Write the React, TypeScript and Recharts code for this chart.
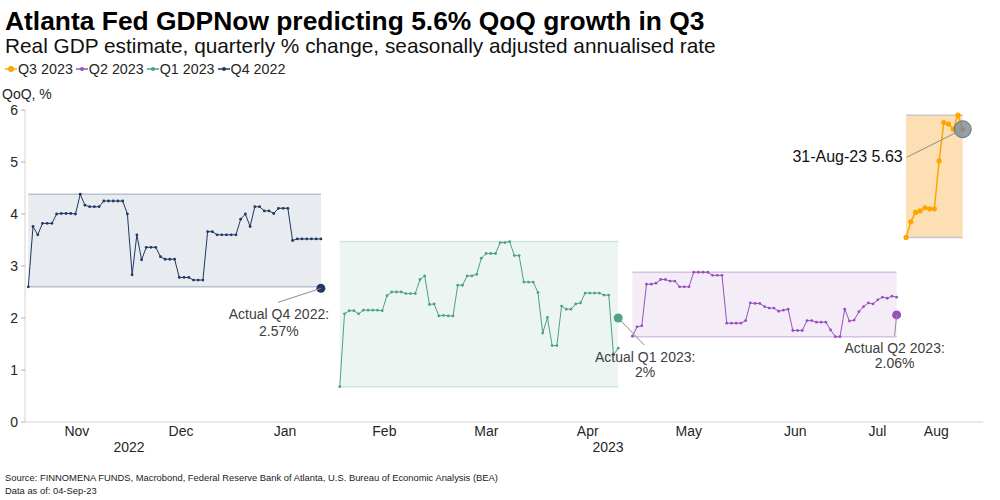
import React from 'react';
import { LineChart, Line, XAxis, YAxis, ReferenceArea, ReferenceLine, ReferenceDot } from 'recharts';

// GDPNow estimates, one value per observation
const q4Values = [
  2.6, 3.76, 3.6, 3.82, 3.82, 3.82, 4.0, 4.01, 4.01, 4.01, 4.0, 4.38, 4.17, 4.14, 4.14, 4.14,
  4.25, 4.25, 4.25, 4.25, 4.25, 4.0, 2.83, 3.6, 3.12, 3.36, 3.36, 3.36, 3.18, 3.13, 3.13, 3.13,
  2.78, 2.78, 2.78, 2.73, 2.73, 2.73, 3.66, 3.66, 3.6, 3.6, 3.6, 3.6, 3.6, 3.9, 4.0, 3.76,
  4.14, 4.14, 4.06, 4.06, 4.01, 4.11, 4.11, 4.11, 3.49, 3.52, 3.52, 3.52, 3.52, 3.52, 3.52,
];
const q1Values = [
  0.68, 2.08, 2.14, 2.14, 2.08, 2.15, 2.15, 2.15, 2.15, 2.14, 2.43, 2.5, 2.5, 2.5, 2.47, 2.47,
  2.47, 2.74, 2.81, 2.26, 2.27, 2.04, 2.05, 2.04, 2.04, 2.63, 2.63, 2.81, 2.81, 2.84, 3.15, 3.24,
  3.24, 3.24, 3.45, 3.45, 3.47, 3.2, 3.2, 2.69, 2.69, 2.69, 2.49, 1.71, 2.01, 1.47, 1.47, 2.23,
  2.17, 2.17, 2.27, 2.29, 2.48, 2.48, 2.48, 2.48, 2.44, 2.44, 1.29, 1.42,
];
const q2Values = [
  1.65, 1.83, 1.85, 2.65, 2.65, 2.67, 2.74, 2.74, 2.71, 2.71, 2.6, 2.6, 2.6, 2.88, 2.88, 2.88,
  2.88, 2.82, 2.82, 2.82, 1.9, 1.9, 1.9, 1.9, 1.95, 2.29, 2.28, 2.28, 2.22, 2.19, 2.19, 2.13,
  2.15, 2.17, 1.76, 1.76, 1.76, 1.95, 1.95, 1.92, 1.92, 1.92, 1.77, 1.64, 1.64, 2.17, 1.94, 1.96,
  2.12, 2.22, 2.29, 2.27, 2.35, 2.4, 2.38, 2.42, 2.4,
];
const q3Values = [3.55, 3.85, 4.03, 4.06, 4.12, 4.1, 4.1, 5.02, 5.76, 5.73, 5.63, 5.9, 5.63];

// observation index where each quarter's nowcast begins
const seriesStart = [0, 66, 128, 186];
const seriesNames = ['Q4 2022', 'Q1 2023', 'Q2 2023', 'Q3 2023'];

const actualValues = [2.57, 2.0, 2.06];
const actualText = ['2.57%', '2%', '2.06%'];
const lastDate = '31-Aug-23';

const monthEdges = [-0.7, 21.3, 43.4, 65.4, 85.5, 108.6, 128.5, 151.4, 173.6, 186.3, 198.5];
const monthLabels = ['Nov', 'Dec', 'Jan', 'Feb', 'Mar', 'Apr', 'May', 'Jun', 'Jul', 'Aug'];
const yearEdges = [-0.7, 43.4, 202.3];
const yearLabels = ['2022', '2023'];
const yTicks = [0, 1, 2, 3, 4, 5, 6];

const FONT = '"Liberation Sans", Arial, sans-serif';
const TEXT = '#262626';

const colors = [
  { line: '#1f3864', band: '#e8ebef', edge: '#b8c1cd' },
  { line: '#4aa287', band: '#edf5f2', edge: '#cde5dd' },
  { line: '#9a4fbf', band: '#f4edf8', edge: '#d8bfe6' },
  { line: '#ffa500', band: '#fddfb4', edge: '#c9c9c9' },
];

const allValues = [q4Values, q1Values, q2Values, q3Values];
const series = allValues.map((vals, k) => ({
  name: seriesNames[k],
  data: vals.map((v, i) => ({ x: seriesStart[k] + i, v })),
  x1: seriesStart[k],
  x2: seriesStart[k] + vals.length - 1,
  lo: Math.min(...vals),
  hi: Math.max(...vals),
  ...colors[k],
}));

const monthTicks = monthLabels.map((_, i) => (monthEdges[i] + monthEdges[i + 1]) / 2);
const yearTicks = yearLabels.map((_, i) => (yearEdges[i] + yearEdges[i + 1]) / 2);
const domain = [yearEdges[0], yearEdges[yearEdges.length - 1]];

// text + leader line offsets relative to each actual dot
const notePos = [
  { lx: -43, ly: 14, tx: -42, t1: 31, t2: 48 },
  { lx: 26, ly: 27, tx: 27, t1: 44, t2: 59 },
  { lx: -2, ly: 21, tx: -2, t1: 38, t2: 53 },
];

const actualNote = (k: number) => (props: any) => {
  const vb = props.viewBox;
  const cx = vb.x + vb.width / 2;
  const cy = vb.y + vb.height / 2;
  const p = notePos[k];
  return (
    <g>
      <line x1={cx} y1={cy} x2={cx + p.lx} y2={cy + p.ly} stroke="#8c8c8c" strokeWidth={1} />
      <text x={cx + p.tx} y={cy + p.t1} textAnchor="middle" fontSize={14} fill="#404040" fontFamily={FONT}>
        {`Actual ${seriesNames[k]}:`}
      </text>
      <text x={cx + p.tx} y={cy + p.t2} textAnchor="middle" fontSize={14} fill="#404040" fontFamily={FONT}>
        {actualText[k]}
      </text>
    </g>
  );
};

const lastNote = (props: any) => {
  const vb = props.viewBox;
  const cx = vb.x + vb.width / 2;
  const cy = vb.y + vb.height / 2;
  const last = q3Values[q3Values.length - 1];
  return (
    <g>
      <line x1={cx - 6} y1={cy + 3} x2={cx - 56} y2={cy + 28} stroke="#8c8c8c" strokeWidth={1} />
      <text x={cx - 60} y={cy + 33} textAnchor="end" fontSize={16} fill="#111" fontFamily={FONT}>
        {`${lastDate} ${last.toFixed(2)}`}
      </text>
    </g>
  );
};

const Legend = () => (
  <div style={{ position: 'absolute', left: 5, top: 61, display: 'flex', gap: 3, fontSize: 14.3, color: TEXT }}>
    {[3, 2, 1, 0].map((k) => (
      <div key={k} style={{ display: 'flex', alignItems: 'center', gap: 1 }}>
        <svg width={12} height={10}>
          <line x1={0} y1={5} x2={12} y2={5} stroke={series[k].line} strokeWidth={1.5} />
          <circle cx={6} cy={5} r={k === 3 ? 3 : 2} fill={series[k].line} />
        </svg>
        <span>{series[k].name}</span>
      </div>
    ))}
  </div>
);

export default function App() {
  const q3 = series[3];
  return (
    <div style={{ position: 'fixed', left: 0, top: 0, width: 1000, height: 500, background: '#fff', fontFamily: FONT }}>
      <div style={{ position: 'absolute', left: 5, top: 6, fontSize: 26.4, fontWeight: 'bold', color: '#000', whiteSpace: 'nowrap' }}>
        Atlanta Fed GDPNow predicting 5.6% QoQ growth in Q3
      </div>
      <div style={{ position: 'absolute', left: 5, top: 34, fontSize: 20.8, color: '#111', whiteSpace: 'nowrap' }}>
        Real GDP estimate, quarterly % change, seasonally adjusted annualised rate
      </div>
      <Legend />
      <div style={{ position: 'absolute', left: 2, top: 86, fontSize: 14, color: TEXT }}>QoQ, %</div>

      <div style={{ position: 'absolute', left: 0, top: 0 }}>
        <LineChart width={1000} height={500} margin={{ top: 110, right: 17, bottom: 0, left: 0 }}>
          <XAxis
            type="number"
            dataKey="x"
            domain={domain}
            allowDataOverflow
            ticks={monthEdges.slice(1)}
            tick={false}
            tickSize={3}
            height={1}
            stroke="#d4d4d4"
            tickLine={{ stroke: '#b0b0b0' }}
          />
          <XAxis
            xAxisId="month"
            type="number"
            dataKey="x"
            domain={domain}
            allowDataOverflow
            ticks={monthTicks}
            tickFormatter={(v: number) => monthLabels[monthTicks.indexOf(v)]}
            axisLine={false}
            tickLine={false}
            tickSize={0}
            tickMargin={3}
            height={16}
            tick={{ fontSize: 14, fill: TEXT, fontFamily: FONT }}
            interval={0}
          />
          <XAxis
            xAxisId="year"
            type="number"
            dataKey="x"
            domain={domain}
            allowDataOverflow
            ticks={yearTicks}
            tickFormatter={(v: number) => yearLabels[yearTicks.indexOf(v)]}
            axisLine={false}
            tickLine={false}
            tickSize={0}
            tickMargin={3}
            height={61}
            tick={{ fontSize: 14, fill: TEXT, fontFamily: FONT }}
            interval={0}
          />
          <YAxis
            type="number"
            domain={[0, 6]}
            ticks={yTicks}
            width={25}
            stroke="#d4d4d4"
            tickLine={{ stroke: '#b0b0b0' }}
            tickSize={4}
            tickMargin={3}
            tick={{ fontSize: 14, fill: TEXT, fontFamily: FONT }}
            interval={0}
          />

          {series.map((s) => (
            <ReferenceArea key={'a' + s.name} x1={s.x1} x2={s.x2} y1={s.lo} y2={s.hi} fill={s.band} fillOpacity={1} stroke="none" />
          ))}
          {series.map((s) => (
            <ReferenceLine key={'t' + s.name} segment={[{ x: s.x1, y: s.hi }, { x: s.x2, y: s.hi }]} stroke={s.edge} strokeWidth={1.5} />
          ))}
          {series.map((s) => (
            <ReferenceLine key={'b' + s.name} segment={[{ x: s.x1, y: s.lo }, { x: s.x2, y: s.lo }]} stroke={s.edge} strokeWidth={1.5} />
          ))}

          {series.map((s, k) => (
            <Line
              key={s.name}
              data={s.data}
              dataKey="v"
              name={s.name}
              type="linear"
              stroke={s.line}
              strokeWidth={k === 3 ? 1.5 : 1}
              dot={{ r: k === 3 ? 2.6 : 1.4, fill: s.line, stroke: 'none' }}
              isAnimationActive={false}
            />
          ))}

          {actualValues.map((v, k) => (
            <ReferenceDot
              key={'d' + k}
              x={series[k].x2}
              y={v}
              r={4.5}
              fill={series[k].line}
              stroke="none"
              label={actualNote(k)}
            />
          ))}
          <ReferenceDot
            x={q3.x2}
            y={q3Values[q3Values.length - 1]}
            r={8.5}
            fill="#7b8896"
            fillOpacity={0.8}
            stroke="#667380"
            strokeWidth={1}
            label={lastNote}
          />
        </LineChart>
      </div>

      <div style={{ position: 'absolute', left: 5, top: 471, fontSize: 9.4, lineHeight: '13px', color: '#222', fontFamily: '"Liberation Sans Narrow", "Liberation Sans", sans-serif', whiteSpace: 'nowrap' }}>
        <div>Source: FINNOMENA FUNDS, Macrobond, Federal Reserve Bank of Atlanta, U.S. Bureau of Economic Analysis (BEA)</div>
        <div>Data as of: 04-Sep-23</div>
      </div>
    </div>
  );
}
